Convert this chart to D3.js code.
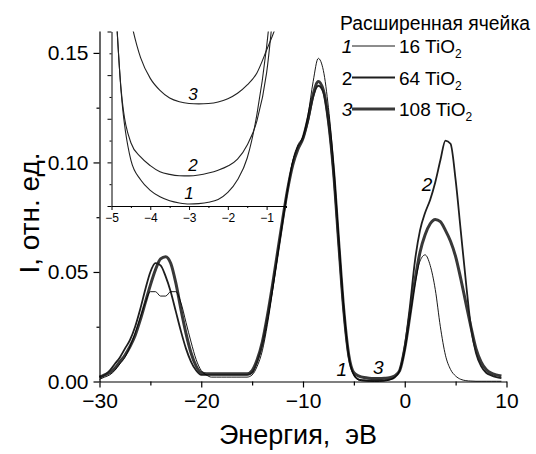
<!DOCTYPE html>
<html>
<head>
<meta charset="utf-8">
<script src="https://cdn.jsdelivr.net/npm/d3@7"></script>
<style>
  html, body { margin: 0; padding: 0; background: #fff; }
  svg { display: block; font-family: "Liberation Sans", Arial, sans-serif; }
</style>
</head>
<body>
<svg id="chart" width="536" height="454"></svg>
<script>
// Energy grid, eV
const energy = [
  -30, -29.5, -29, -28.5, -28, -27.5, -27, -26.5, -26, -25.5,
  -25, -24.5, -24, -23.5, -23, -22.5, -22, -21.5, -21, -20.5,
  -20, -19.5, -19, -18.5, -18, -17.5, -17, -16.5, -16, -15.5,
  -15, -14.5, -14, -13.5, -13, -12.5, -12, -11.5, -11, -10.5,
  -10, -9.5, -9, -8.5, -8, -7.5, -7, -6.5, -6, -5.5,
  -5, -4.5, -4, -3.5, -3, -2.5, -2, -1.5, -1, -0.5,
  0, 0.5, 1, 1.5, 2, 2.5, 3, 3.5, 4, 4.5,
  5, 5.5, 6, 6.5, 7, 7.5, 8, 8.5, 9, 9.5
];

// Intensity, arb. units — extended cell of 16 TiO2
const cell16 = [
  0.001, 0.002, 0.003, 0.005, 0.008, 0.011, 0.016, 0.022, 0.029, 0.036,
  0.041, 0.041, 0.039, 0.039, 0.041, 0.041, 0.036, 0.027, 0.018, 0.010,
  0.005, 0.003, 0.002, 0.002, 0.002, 0.002, 0.002, 0.002, 0.002, 0.002,
  0.003, 0.007, 0.014, 0.026, 0.041, 0.057, 0.073, 0.088, 0.101, 0.108,
  0.112, 0.122, 0.137, 0.1475, 0.142, 0.125, 0.100, 0.067, 0.035, 0.012,
  0.003, 0.0006, 0.0002, 0.0001, 0.00003, 0.00006, 0.0002, 0.0007, 0.002, 0.005,
  0.014, 0.029, 0.044, 0.055, 0.0578, 0.053, 0.042, 0.025, 0.012, 0.0055,
  0.0025, 0.001, 0.0004, 0.0002, 0.0001, 0.0001, 0.0001, 0.0001, 0.0001, 0.0001
];

// 64 TiO2
const cell64 = [
  0.002, 0.003, 0.005, 0.008, 0.011, 0.015, 0.019, 0.025, 0.033, 0.042,
  0.050, 0.054, 0.053, 0.048, 0.041, 0.032, 0.023, 0.015, 0.009, 0.005,
  0.003, 0.003, 0.003, 0.003, 0.003, 0.003, 0.003, 0.003, 0.003, 0.003,
  0.004, 0.009, 0.017, 0.029, 0.043, 0.058, 0.073, 0.088, 0.100, 0.107,
  0.111, 0.119, 0.130, 0.135, 0.132, 0.118, 0.095, 0.063, 0.032, 0.011,
  0.003, 0.0009, 0.0006, 0.00045, 0.0004, 0.00045, 0.00055, 0.00085, 0.0018, 0.005,
  0.016, 0.034, 0.055, 0.069, 0.077, 0.083, 0.091, 0.101, 0.110, 0.1085,
  0.092, 0.069, 0.046, 0.025, 0.013, 0.007, 0.004, 0.0028, 0.002, 0.0015
];

// 108 TiO2
const cell108 = [
  0.002, 0.003, 0.004, 0.006, 0.009, 0.012, 0.016, 0.021, 0.028, 0.036,
  0.044, 0.051, 0.056, 0.057, 0.054, 0.045, 0.033, 0.022, 0.013, 0.007,
  0.004, 0.0035, 0.0035, 0.0035, 0.0035, 0.0035, 0.0035, 0.0035, 0.0035, 0.0035,
  0.005, 0.010, 0.018, 0.030, 0.044, 0.059, 0.074, 0.088, 0.099, 0.106,
  0.111, 0.120, 0.131, 0.137, 0.133, 0.119, 0.096, 0.064, 0.033, 0.012,
  0.004, 0.0025, 0.0018, 0.0015, 0.0014, 0.0014, 0.0015, 0.0017, 0.0025, 0.005,
  0.015, 0.030, 0.046, 0.059, 0.067, 0.072, 0.074, 0.073, 0.069, 0.064,
  0.057, 0.047, 0.036, 0.025, 0.015, 0.009, 0.0055, 0.0038, 0.003, 0.0025
];

// Band-gap detail (inset), intensity in relative units
const insetEnergy = [
  -5, -4.75, -4.5, -4.25, -4, -3.75, -3.5, -3.25, -3, -2.75,
  -2.5, -2.25, -2, -1.75, -1.5, -1.25, -1, -0.75, -0.5
];
const inset16 = [
  13, 5.2, 2.1, 1.2, 0.72, 0.42, 0.24, 0.14, 0.09, 0.11,
  0.17, 0.30, 0.62, 1.2, 2.2, 4.2, 7.3, 12, 18
];
const inset64 = [
  13, 5.3, 2.9, 2.25, 1.85, 1.57, 1.45, 1.39, 1.38, 1.42,
  1.51, 1.64, 1.83, 2.15, 2.8, 3.9, 6.1, 10.5, 16
];
const inset108 = [
  14, 11, 8.5, 6.8, 5.85, 5.3, 4.95, 4.78, 4.7, 4.68,
  4.7, 4.77, 4.92, 5.17, 5.55, 6.1, 7.15, 8.3, 10
];

// Axis ticks
const xMajor = [-30, -20, -10, 0, 10];
const xMinor = [-25, -15, -5, 5];
const yMajor = [0, 0.05, 0.10, 0.15];
const yMinor = [0.025, 0.075, 0.125];
const insetXMajor = [-5, -4, -3, -2, -1];
const insetXMinor = [-4.5, -3.5, -2.5, -1.5, -0.5];
const insetYMajor = [0, 2, 4, 6, 8];
const insetYMinor = [1, 3, 5, 7];

// Legend
const legendTitle = "Расширенная ячейка";
const seriesNums = ["1", "2", "3"];
const seriesCells = ["16", "64", "108"];

const svg = d3.select("#chart");

const x = d3.scaleLinear().domain([-30, 10]).range([99.5, 506.5]);
const y = d3.scaleLinear().domain([0, 0.16]).range([381.5, 31]);

const styles = [
  { data: cell108, w: 3.0, c: "#383838" },
  { data: cell64, w: 1.8, c: "#1e1e1e" },
  { data: cell16, w: 0.9, c: "#000" }
];

const line = d3.line().curve(d3.curveMonotoneX);

const plot = svg.append("g");
styles.forEach(s => {
  plot.append("path")
    .attr("d", line(energy.map((e, i) => [x(e), y(s.data[i])])))
    .attr("fill", "none")
    .attr("stroke", s.c)
    .attr("stroke-width", s.w)
    .attr("stroke-linejoin", "round");
});

// Main axes
function styleAxis(g) {
  g.selectAll(".domain").attr("stroke", "#000").attr("stroke-width", 1.2);
  g.selectAll(".tick line").attr("stroke", "#000").attr("stroke-width", 1.2);
  g.selectAll("text").attr("fill", "#000").style("font-family", "Liberation Sans, Arial, sans-serif");
}

const gx = svg.append("g").attr("transform", `translate(0,${y(0)})`)
  .call(d3.axisBottom(x).tickValues(xMajor).tickSize(6).tickSizeOuter(0).tickPadding(6).tickFormat(d3.format("d")));
gx.call(styleAxis);
gx.selectAll("text").attr("font-size", 21);
const gxm = svg.append("g").attr("transform", `translate(0,${y(0)})`)
  .call(d3.axisBottom(x).tickValues(xMinor).tickSize(4).tickFormat(""));
gxm.call(styleAxis);
gxm.select(".domain").remove();

const gy = svg.append("g").attr("transform", `translate(${x(-30)},0)`)
  .call(d3.axisLeft(y).tickValues(yMajor).tickSize(6).tickSizeOuter(0).tickPadding(5).tickFormat(d3.format(".2f")));
gy.call(styleAxis);
gy.selectAll("text").attr("font-size", 21);
const gym = svg.append("g").attr("transform", `translate(${x(-30)},0)`)
  .call(d3.axisLeft(y).tickValues(yMinor).tickSize(3).tickFormat(""));
gym.call(styleAxis);
gym.select(".domain").remove();

// Axis titles
svg.append("text")
  .attr("x", 298).attr("y", 444)
  .attr("text-anchor", "middle")
  .attr("font-size", 27)
  .attr("xml:space", "preserve")
  .text("Энергия,  эВ");

svg.append("text")
  .attr("transform", "translate(39,213) rotate(-90)")
  .attr("text-anchor", "middle")
  .attr("font-size", 28)
  .text("I, отн. ед.");

// Curve labels in the main panel
const mainLabels = [
  { t: "1", e: -6.2, v: 0.0025 },
  { t: "3", e: -2.6, v: 0.0035 },
  { t: "2", e: 2.2, v: 0.087 }
];
mainLabels.forEach(d => {
  svg.append("text")
    .attr("x", x(d.e)).attr("y", y(d.v))
    .attr("text-anchor", "middle")
    .attr("font-size", 19)
    .attr("font-style", "italic")
    .text(d.t);
});

// Inset: band-gap region
const ix = d3.scaleLinear().domain([-5, -0.5]).range([111.5, 286]);
const iy = d3.scaleLinear().domain([0, 8]).range([206, 31.5]);

svg.append("clipPath").attr("id", "insetClip")
  .append("rect").attr("x", ix(-5)).attr("y", iy(8))
  .attr("width", ix(-0.5) - ix(-5)).attr("height", iy(0) - iy(8));

const inset = svg.append("g");
[inset16, inset64, inset108].forEach(arr => {
  inset.append("path")
    .attr("clip-path", "url(#insetClip)")
    .attr("d", line(insetEnergy.map((e, i) => [ix(e), iy(arr[i])])))
    .attr("fill", "none")
    .attr("stroke", "#222")
    .attr("stroke-width", 1.1);
});

const igx = svg.append("g").attr("transform", `translate(0,${iy(0)})`)
  .call(d3.axisBottom(ix).tickValues(insetXMajor).tickSize(4).tickSizeOuter(0).tickPadding(3).tickFormat(d3.format("d")));
igx.call(styleAxis);
igx.select(".domain").attr("stroke-width", 1);
igx.selectAll(".tick line").attr("stroke-width", 1);
igx.selectAll("text").attr("font-size", 12);
const igxm = svg.append("g").attr("transform", `translate(0,${iy(0)})`)
  .call(d3.axisBottom(ix).tickValues(insetXMinor).tickSize(2).tickFormat(""));
igxm.call(styleAxis);
igxm.select(".domain").remove();
igxm.selectAll(".tick line").attr("stroke-width", 1);

const igy = svg.append("g").attr("transform", `translate(${ix(-5)},0)`)
  .call(d3.axisLeft(iy).tickValues(insetYMajor).tickSize(4).tickSizeOuter(0).tickFormat(""));
igy.call(styleAxis);
igy.select(".domain").attr("stroke-width", 1);
igy.selectAll(".tick line").attr("stroke-width", 1);
const igym = svg.append("g").attr("transform", `translate(${ix(-5)},0)`)
  .call(d3.axisLeft(iy).tickValues(insetYMinor).tickSize(2).tickFormat(""));
igym.call(styleAxis);
igym.select(".domain").remove();
igym.selectAll(".tick line").attr("stroke-width", 1);

const insetLabels = [
  { t: "3", e: -2.9, v: 4.85 },
  { t: "2", e: -2.9, v: 1.6 },
  { t: "1", e: -3.0, v: 0.3 }
];
insetLabels.forEach(d => {
  svg.append("text")
    .attr("x", ix(d.e)).attr("y", iy(d.v))
    .attr("text-anchor", "middle")
    .attr("font-size", 17)
    .attr("font-style", "italic")
    .text(d.t);
});

// Legend
const lg = svg.append("g");
lg.append("text").attr("x", 340).attr("y", 30).attr("font-size", 20)
  .attr("textLength", 190).attr("lengthAdjust", "spacingAndGlyphs")
  .text(legendTitle);
const legendWidths = [0.9, 1.8, 3.0];
const legendColors = ["#000", "#1e1e1e", "#383838"];
seriesNums.forEach((n, i) => {
  const ly = 46 + i * 31.5;
  lg.append("text").attr("x", 347).attr("y", ly + 7)
    .attr("text-anchor", "middle").attr("font-size", 19)
    .attr("font-style", i === 1 ? "normal" : "italic").text(n);
  lg.append("line").attr("x1", 352).attr("x2", 395).attr("y1", ly).attr("y2", ly)
    .attr("stroke", legendColors[i]).attr("stroke-width", legendWidths[i]);
  const t = lg.append("text").attr("x", 399).attr("y", ly + 7).attr("font-size", 19);
  t.append("tspan").text(seriesCells[i] + " TiO");
  t.append("tspan").attr("font-size", 12).attr("dy", 5).text("2");
});
</script>
</body>
</html>
